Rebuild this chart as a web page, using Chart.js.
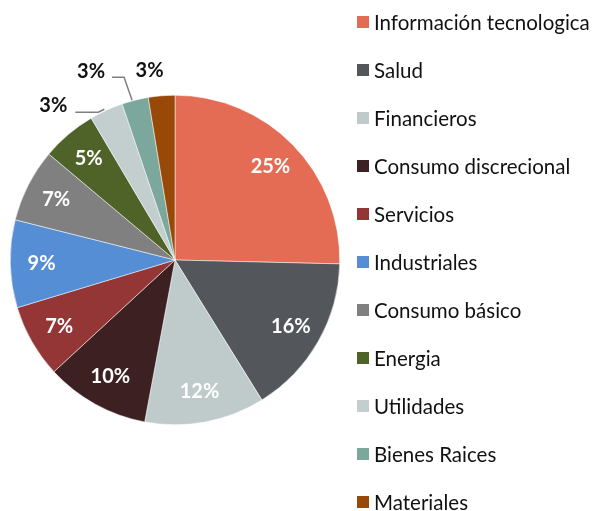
<!DOCTYPE html>
<html>
<head>
<meta charset="utf-8">
<script src="https://cdn.jsdelivr.net/npm/chart.js@4.4.1/dist/chart.umd.min.js"></script>
<style>
  html, body { margin: 0; padding: 0; background: #fff; }
  #wrap { position: relative; width: 594px; height: 511px; overflow: hidden; }
  #chart-box { position: absolute; left: 0; top: 0; width: 350px; height: 511px; }
  #legend { position: absolute; left: 0; top: 0; width: 594px; height: 511px; pointer-events: none; }
  .leg-item { position: absolute; left: 357px; height: 24px; display: flex; align-items: center;
              font-family: Lato, "Open Sans", sans-serif; font-size: 20.5px; color: #111; white-space: nowrap; }
  .leg-box { width: 12px; height: 12px; margin-right: 5px; flex: none; }
</style>
</head>
<body>
<div id="wrap">
  <div id="chart-box"><canvas id="pie"></canvas></div>
  <div id="legend"></div>
</div>
<script>
// Sector weights (%)
var SECTORS = [
  "Información tecnologica", "Salud", "Financieros", "Consumo discrecional",
  "Servicios", "Industriales", "Consumo básico", "Energia",
  "Utilidades", "Bienes Raices", "Materiales"
];
var WEIGHTS = [25.4, 15.8, 11.8, 10.2, 7.2, 8.6, 7.2, 5.4, 3.3, 2.6, 2.6];
var COLORS = [
  "#E46C55", "#53565B", "#BFCBCB", "#3D2022",
  "#943636", "#558ED5", "#808080", "#4F6228",
  "#C3CFCF", "#7BA79D", "#984807"
];

// Small slices get their labels outside, with an optional leader line.
// Offsets are relative to the arc edge at the slice's mid angle.
var OUTSIDE = {
  8:  { dx: -53, dy: -5,  line: [[-2, -1], [-8, 2], [-31, 2]] },
  9:  { dx: -44, dy: -29, line: [[-3, 0], [-11, -23], [-23, -23]] },
  10: { dx: -12, dy: -25, line: null }
};

var pieLabels = {
  id: "pieLabels",
  afterDatasetsDraw: function(chart) {
    var ctx  = chart.ctx;
    var meta = chart.getDatasetMeta(0);
    var data = chart.data.datasets[0].data;
    var total = data.reduce(function(a, b) { return a + b; }, 0);

    ctx.save();
    ctx.textAlign = "center";
    ctx.textBaseline = "middle";
    ctx.font = "bold 20px Lato, 'Open Sans', sans-serif";

    meta.data.forEach(function(arc, i) {
      var p = arc.getProps(["x", "y", "startAngle", "endAngle", "outerRadius"], true);
      var mid = (p.startAngle + p.endAngle) / 2;
      var txt = Math.round(data[i] / total * 100) + "%";
      var out = OUTSIDE[i];

      if (!out) {
        var r = p.outerRadius * 0.81;
        ctx.fillStyle = "#fff";
        ctx.fillText(txt, p.x + Math.cos(mid) * r, p.y + Math.sin(mid) * r);
        return;
      }

      var ex = p.x + Math.cos(mid) * p.outerRadius;
      var ey = p.y + Math.sin(mid) * p.outerRadius;
      if (out.line) {
        ctx.strokeStyle = "#7f7f7f";
        ctx.lineWidth = 1.5;
        ctx.beginPath();
        out.line.forEach(function(pt, k) {
          if (k === 0) ctx.moveTo(ex + pt[0], ey + pt[1]);
          else ctx.lineTo(ex + pt[0], ey + pt[1]);
        });
        ctx.stroke();
      }
      ctx.fillStyle = "#111";
      ctx.fillText(txt, ex + out.dx, ey + out.dy);
    });
    ctx.restore();
  }
};

new Chart(document.getElementById("pie"), {
  type: "pie",
  data: {
    labels: SECTORS,
    datasets: [{
      data: WEIGHTS,
      backgroundColor: COLORS,
      borderColor: "#ffffff",
      borderWidth: 0.5
    }]
  },
  options: {
    responsive: true,
    maintainAspectRatio: false,
    animation: false,
    layout: { padding: { top: 95, bottom: 86, left: 10, right: 10 } },
    plugins: { legend: { display: false }, tooltip: { enabled: false } }
  },
  plugins: [pieLabels]
});

// Legend, one row every 48px
var legend = document.getElementById("legend");
var html = "";
SECTORS.forEach(function(name, i) {
  html += (
    '<div class="leg-item" style="top:' + (22 + i * 48 - 12) + 'px">' +
      '<span class="leg-box" style="background:' + COLORS[i] + '"></span>' +
      '<span>' + name + '</span>' +
    '</div>'
  );
});
legend.innerHTML = html;
</script>
</body>
</html>
